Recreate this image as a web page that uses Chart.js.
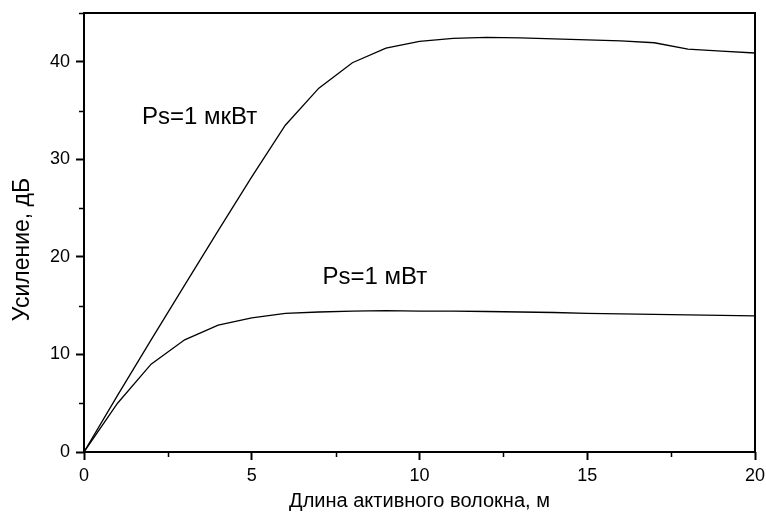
<!DOCTYPE html>
<html>
<head>
<meta charset="utf-8">
<script src="https://cdn.jsdelivr.net/npm/chart.js@4"></script>
<style>
  html, body { margin: 0; padding: 0; background: #fff; }
  #wrap { width: 766px; height: 525px; }
</style>
</head>
<body>
<div id="wrap"><canvas id="grafica" width="766" height="525"></canvas></div>
<script>
// длина волокна, м
const lengths = [0, 1, 2, 3, 4, 5, 6, 7, 8, 9, 10, 11, 12, 13, 14, 15, 16, 17, 18, 19, 20];
// усиление при Ps = 1 мкВт, дБ
const gainMicro = [0, 5.8, 11.5, 17.1, 22.7, 28.2, 33.5, 37.3, 39.9, 41.4, 42.1, 42.4, 42.5, 42.45, 42.35, 42.25, 42.15, 41.95, 41.3, 41.1, 40.9];
// усиление при Ps = 1 мВт, дБ
const gainMilli = [0, 5.0, 9.0, 11.5, 13.0, 13.75, 14.2, 14.35, 14.45, 14.5, 14.45, 14.45, 14.4, 14.35, 14.3, 14.2, 14.15, 14.1, 14.05, 14.0, 13.95];

const xMajor = [0, 5, 10, 15, 20];
const xMinor = [2.5, 7.5, 12.5, 17.5];
const yMajor = [0, 10, 20, 30, 40];
const yMinor = [5, 15, 25, 35, 45];

const curveLabels = [
  { text: 'Ps=1 мкВт', x: 1.73, y: 34.3 },
  { text: 'Ps=1 мВт', x: 7.11, y: 17.9 }
];

const yTitle = 'Усиление, дБ';

const FONT = '"Liberation Sans", Arial, sans-serif';

// рамка, малые деления, подпись оси Y и подписи кривых
const framePlugin = {
  id: 'frame',
  afterDraw(chart) {
    const { ctx, chartArea: a, scales: { x, y } } = chart;
    ctx.save();
    ctx.strokeStyle = '#000';
    ctx.lineWidth = 2;
    ctx.strokeRect(a.left, a.top, a.right - a.left, a.bottom - a.top);

    ctx.lineWidth = 1.5;
    ctx.beginPath();
    xMinor.forEach(v => {
      const px = Math.round(x.getPixelForValue(v)) + 0.5;
      ctx.moveTo(px, a.bottom);
      ctx.lineTo(px, a.bottom + 5);
    });
    yMinor.forEach(v => {
      const py = Math.round(y.getPixelForValue(v)) + 0.5;
      ctx.moveTo(a.left, py);
      ctx.lineTo(a.left - 5, py);
    });
    ctx.stroke();

    ctx.fillStyle = '#000';
    ctx.font = '24px ' + FONT;
    ctx.textAlign = 'left';
    ctx.textBaseline = 'middle';
    curveLabels.forEach(l => {
      ctx.fillText(l.text, x.getPixelForValue(l.x), y.getPixelForValue(l.y));
    });

    ctx.translate(23, a.top + (a.bottom - a.top) / 2 + 17);
    ctx.rotate(-Math.PI / 2);
    ctx.font = '23px ' + FONT;
    ctx.textAlign = 'center';
    ctx.fillText(yTitle, 0, 0);
    ctx.restore();
  }
};

const lineStyle = {
  borderColor: '#000',
  borderWidth: 1.3,
  pointRadius: 0,
  tension: 0,
  fill: false
};

new Chart(document.getElementById('grafica').getContext('2d'), {
  type: 'line',
  data: {
    datasets: [
      { label: 'Ps=1 мкВт', data: lengths.map((l, i) => ({ x: l, y: gainMicro[i] })), ...lineStyle },
      { label: 'Ps=1 мВт', data: lengths.map((l, i) => ({ x: l, y: gainMilli[i] })), ...lineStyle }
    ]
  },
  options: {
    responsive: false,
    animation: false,
    layout: { padding: { top: 13, right: 11, left: 0, bottom: 0 } },
    plugins: { legend: { display: false }, tooltip: { enabled: false } },
    scales: {
      x: {
        type: 'linear',
        min: 0,
        max: 20,
        afterBuildTicks: s => { s.ticks = xMajor.map(v => ({ value: v })); },
        afterFit: s => { s.height = 73; s.paddingLeft = 0; s.paddingRight = 0; },
        grid: { drawOnChartArea: false, tickLength: 8, tickWidth: 2, tickColor: '#000' },
        border: { display: false },
        ticks: { color: '#000', font: { family: FONT, size: 18 }, padding: 5, maxRotation: 0 },
        title: {
          display: true,
          text: 'Длина активного волокна, м',
          color: '#000',
          font: { family: FONT, size: 20 },
          padding: { top: 0, bottom: 12 }
        }
      },
      y: {
        min: 0,
        max: 45,
        afterBuildTicks: s => { s.ticks = yMajor.map(v => ({ value: v })); },
        afterFit: s => { s.width = 84; s.paddingTop = 0; s.paddingBottom = 0; },
        grid: { drawOnChartArea: false, tickLength: 8, tickWidth: 2, tickColor: '#000' },
        border: { display: false },
        ticks: { color: '#000', font: { family: FONT, size: 18 }, padding: 6 }
      }
    }
  },
  plugins: [framePlugin]
});
</script>
</body>
</html>
